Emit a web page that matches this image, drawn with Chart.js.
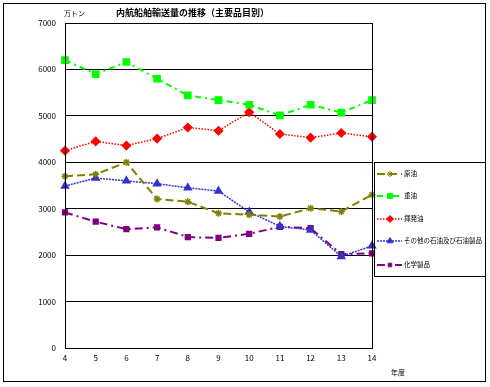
<!DOCTYPE html>
<html>
<head>
<meta charset="utf-8">
<script src="https://cdn.jsdelivr.net/npm/chart.js@4.4.0/dist/chart.umd.min.js"></script>
<style>
  html, body { margin: 0; padding: 0; background: #fff; }
  #wrap { width: 490px; height: 387px; position: relative; }
</style>
</head>
<body>
<div id="wrap"><canvas id="chart" width="490" height="387"></canvas></div>
<script>
const years = ['4', '5', '6', '7', '8', '9', '10', '11', '12', '13', '14'];

const crudeOil = [3700, 3740, 4000, 3210, 3150, 2900, 2870, 2830, 3010, 2940, 3300];
const heavyOil = [6200, 5900, 6160, 5800, 5440, 5340, 5240, 5010, 5240, 5070, 5340];
const gasoline = [4250, 4450, 4360, 4510, 4750, 4680, 5080, 4610, 4530, 4630, 4550];
const otherPetro = [3490, 3660, 3600, 3540, 3450, 3380, 2930, 2620, 2540, 1970, 2200];
const chemicals = [2920, 2720, 2560, 2600, 2390, 2370, 2460, 2610, 2580, 2020, 2040];

const seriesNames = ['原油', '重油', '揮発油', 'その他の石油及び石油製品', '化学製品'];
const yTicks = [0, 1000, 2000, 3000, 4000, 5000, 6000, 7000];

const jp = '"Noto Sans CJK JP", "Noto Sans", sans-serif';

const ctx = document.getElementById('chart').getContext('2d');

const data = {
    labels: years,
    datasets: [
        {
            label: seriesNames[0],
            data: crudeOil,
            borderColor: '#808000',
            backgroundColor: '#808000',
            borderWidth: 2,
            borderDash: [8, 4],
            pointStyle: 'star',
            pointRadius: 3.5,
            pointBorderWidth: 1.5
        },
        {
            label: seriesNames[1],
            data: heavyOil,
            borderColor: '#00ff00',
            backgroundColor: '#00ff00',
            borderWidth: 2,
            borderDash: [6, 4, 2, 4],
            pointStyle: 'rect',
            pointRadius: 4
        },
        {
            label: seriesNames[2],
            data: gasoline,
            borderColor: '#ff0000',
            backgroundColor: '#ff0000',
            borderWidth: 1.5,
            borderDash: [1.5, 1.5],
            pointStyle: 'rectRot',
            pointRadius: 4
        },
        {
            label: seriesNames[3],
            data: otherPetro,
            borderColor: '#3333cc',
            backgroundColor: '#3333cc',
            borderWidth: 1.5,
            borderDash: [2, 1],
            pointStyle: 'triangle',
            pointRadius: 4
        },
        {
            label: seriesNames[4],
            data: chemicals,
            borderColor: '#800080',
            backgroundColor: '#800080',
            borderWidth: 2,
            borderDash: [8, 4, 2, 4],
            pointStyle: 'rect',
            pointRadius: 3
        }
    ]
};

// frame, plot box, legend and text labels
const decor = {
    id: 'decor',
    afterDraw(chart) {
        const c = chart.ctx;
        const a = chart.chartArea;
        c.save();
        c.strokeStyle = '#000';
        c.lineWidth = 1;
        c.setLineDash([]);
        c.strokeRect(3.5, 3.5, 482, 378);
        c.strokeRect(Math.round(a.left) + 0.5, Math.round(a.top) + 0.5,
                     Math.round(a.right - a.left), Math.round(a.bottom - a.top));

        c.fillStyle = '#000';
        c.textBaseline = 'middle';
        c.font = 'bold 9px ' + jp;
        c.fillText('内航船舶輸送量の推移（主要品目別）', 116, 13);
        c.font = '7px ' + jp;
        c.fillText('万トン', 64, 13);
        c.fillText('年度', 391, 372);

        // legend box
        c.strokeStyle = '#000';
        c.strokeRect(374.5, 162.5, 111, 114);
        const ys = [174, 196, 219, 241, 265];
        chart.data.datasets.forEach((ds, i) => {
            const y = ys[i];
            c.strokeStyle = ds.borderColor;
            c.lineWidth = ds.borderWidth;
            c.setLineDash(ds.borderDash);
            c.beginPath();
            c.moveTo(377, y);
            c.lineTo(402, y);
            c.stroke();
            c.setLineDash([]);
            c.lineWidth = 1;
            c.fillStyle = ds.backgroundColor;
            Chart.helpers.drawPoint(c, {
                pointStyle: ds.pointStyle,
                radius: ds.pointRadius - 0.5,
                rotation: 0,
                borderWidth: ds.pointBorderWidth || 1
            }, 390, y);
            c.fillStyle = '#000';
            c.font = '6.5px ' + jp;
            c.fillText(ds.label, 404, y);
        });
        c.restore();
    }
};

const chart = new Chart(ctx, {
    type: 'line',
    data: data,
    plugins: [decor],
    options: {
        responsive: false,
        animation: false,
        layout: { padding: { left: 0, top: 23, right: 118, bottom: 0 } },
        plugins: {
            legend: { display: false },
            tooltip: { enabled: false }
        },
        elements: {
            line: { tension: 0, fill: false },
            point: { borderWidth: 1 }
        },
        scales: {
            x: {
                offset: false,
                grid: { display: false, drawTicks: false },
                border: { color: '#000' },
                ticks: {
                    color: '#000',
                    font: { size: 8, family: jp },
                    padding: 5,
                    maxRotation: 0
                },
                afterFit(s) { s.height = 39; }
            },
            y: {
                min: 0,
                max: 7000,
                afterBuildTicks(s) { s.ticks = yTicks.map(v => ({ value: v })); },
                grid: { color: '#000', lineWidth: 1, drawTicks: false },
                border: { color: '#000' },
                ticks: {
                    color: '#000',
                    font: { size: 8, family: jp },
                    padding: 9,
                    callback: v => String(v)
                },
                afterFit(s) { s.width = 65; }
            }
        }
    }
});
</script>
</body>
</html>
